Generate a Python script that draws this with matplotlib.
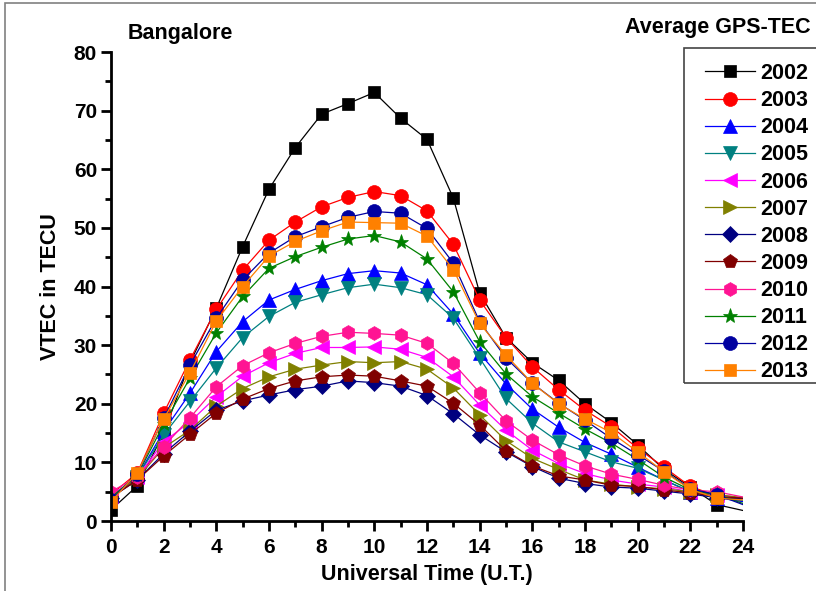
import matplotlib
matplotlib.use("Agg")
import matplotlib.pyplot as plt
from matplotlib.patches import Rectangle
from matplotlib.ticker import MultipleLocator

plt.rcParams['font.family'] = ['Liberation Sans', 'DejaVu Sans']
plt.rcParams['font.weight'] = 'bold'

hours = list(range(25))
years = ['2002', '2003', '2004', '2005', '2006', '2007', '2008', '2009', '2010', '2011', '2012', '2013']

v2002 = [1.9, 6.0, 15.0, 27.0, 36.3, 46.8, 56.6, 63.7, 69.4, 71.2, 73.1, 68.7, 65.1, 55.1, 38.9, 31.3, 27.0, 24.0, 20.0, 16.8, 13.0, 8.8, 5.8, 2.8, 1.8]
v2003 = [4.5, 8.2, 18.4, 27.5, 36.1, 42.8, 47.9, 51.0, 53.6, 55.2, 56.2, 55.5, 52.9, 47.2, 37.7, 31.3, 26.3, 22.4, 18.9, 16.1, 12.4, 9.2, 5.9, 4.3, 3.4]
v2004 = [4.2, 7.6, 15.3, 21.8, 28.9, 34.0, 37.7, 39.5, 41.0, 42.2, 42.7, 42.3, 40.3, 35.3, 28.6, 23.4, 19.1, 16.0, 13.4, 11.4, 9.2, 7.0, 5.0, 4.0, 3.3]
v2005 = [4.0, 7.5, 14.7, 20.4, 26.1, 31.3, 34.9, 37.3, 38.6, 39.8, 40.4, 39.8, 38.6, 34.6, 27.8, 20.9, 16.7, 13.5, 11.8, 10.1, 9.0, 7.0, 5.0, 4.2, 3.5]
v2006 = [4.3, 7.5, 13.5, 16.9, 21.2, 24.7, 27.0, 28.6, 29.6, 29.6, 29.7, 29.3, 27.9, 24.6, 19.8, 15.5, 12.1, 9.8, 8.1, 7.0, 6.3, 5.8, 5.0, 4.5, 3.9]
v2007 = [4.0, 7.3, 12.5, 15.5, 19.6, 22.6, 24.6, 25.9, 26.6, 27.2, 27.0, 27.2, 25.9, 22.7, 18.1, 13.7, 10.7, 8.8, 7.0, 6.3, 5.8, 5.5, 5.0, 4.5, 4.0]
v2008 = [4.0, 7.0, 11.5, 15.3, 18.9, 20.5, 21.5, 22.4, 23.0, 23.9, 23.6, 23.0, 21.4, 18.3, 14.7, 11.8, 9.3, 7.3, 6.4, 5.8, 5.6, 5.1, 4.6, 4.0, 3.8]
v2009 = [4.0, 7.0, 11.1, 14.8, 18.4, 20.8, 22.6, 23.9, 24.6, 24.9, 24.7, 23.9, 23.0, 20.1, 16.4, 12.0, 9.4, 7.7, 7.0, 6.1, 5.9, 5.3, 4.8, 4.2, 3.9]
v2010 = [5.0, 7.5, 12.7, 17.6, 22.9, 26.5, 28.7, 30.3, 31.5, 32.2, 32.0, 31.7, 30.3, 26.9, 21.9, 17.1, 13.8, 11.3, 9.4, 8.0, 7.1, 6.1, 5.3, 5.0, 4.1]
v2011 = [4.0, 7.8, 16.5, 24.4, 32.1, 38.3, 43.1, 45.1, 46.7, 48.1, 48.7, 47.6, 44.7, 39.1, 30.6, 25.1, 21.2, 18.4, 15.7, 13.3, 10.5, 7.5, 5.3, 4.5, 3.0]
v2012 = [3.6, 8.0, 17.5, 26.6, 34.6, 41.1, 45.7, 48.5, 50.2, 51.8, 52.8, 52.5, 49.9, 44.0, 34.0, 27.8, 23.5, 20.1, 17.2, 14.1, 11.3, 8.5, 5.5, 4.5, 2.8]
v2013 = [3.3, 8.2, 17.4, 25.3, 34.1, 40.0, 45.2, 47.7, 49.5, 51.0, 50.9, 50.8, 48.6, 42.9, 33.7, 28.3, 23.5, 20.0, 17.4, 15.1, 11.8, 8.4, 5.4, 3.9, 3.6]

series = [v2002, v2003, v2004, v2005, v2006, v2007, v2008, v2009, v2010, v2011, v2012, v2013]
colors = ['#000000', '#FF0000', '#0000FF', '#008080', '#FF00FF', '#808000',
          '#000080', '#800000', '#FF1493', '#008000', '#0000A0', '#FF8000']
markers = ['s', 'o', '^', 'v', '<', '>', 'D', 'p', 'h', '*', 'o', 's']
msizes = [9, 10, 10, 10, 10, 10, 8, 10, 10, 11, 10, 9]

fig = plt.figure(figsize=(8.16, 5.91), dpi=100)
# outer page frame (top and left visible)
fig.patches.append(Rectangle((5 / 816, -0.1), 1.1, 1.1 - 3 / 591, transform=fig.transFigure,
                             fill=False, edgecolor='#808080', linewidth=1.2))
ax = fig.add_axes([0.136, 0.1184, 0.7745, 0.7936])

for y, vals, c, m, ms in zip(years, series, colors, markers, msizes):
    ax.plot(hours, vals, color=c, linewidth=0.9, marker=m, markersize=ms,
            markerfacecolor=c, markeredgecolor=c, markeredgewidth=0.5,
            markevery=list(range(24)), label=y)

ax.set_xlim(0, 24)
ax.set_ylim(0, 80)
ax.xaxis.set_major_locator(MultipleLocator(2))
ax.xaxis.set_minor_locator(MultipleLocator(1))
ax.yaxis.set_major_locator(MultipleLocator(10))
ax.yaxis.set_minor_locator(MultipleLocator(5))
ax.spines['top'].set_visible(False)
ax.spines['right'].set_visible(False)
for s in ('left', 'bottom'):
    ax.spines[s].set_linewidth(2)
ax.tick_params(which='major', direction='out', length=7, width=2, labelsize=15)
ax.tick_params(axis='x', which='major', pad=5.5)
ax.tick_params(axis='y', which='major', pad=3)
ax.tick_params(which='minor', direction='out', length=4, width=2)
for lab in ax.get_xticklabels() + ax.get_yticklabels():
    lab.set_fontweight('bold')

ax.set_xlabel('Universal Time (U.T.)', fontsize=15.5, fontweight='bold', labelpad=5)
ax.set_ylabel('VTEC in TECU', fontsize=15.5, fontweight='bold', labelpad=9)

ax.text(0.027, 1.04, 'Bangalore', transform=ax.transAxes, fontsize=15.5,
        fontweight='bold', ha='left', va='center')
fig.text(0.993, 0.954, 'Average GPS-TEC', fontsize=15.5, fontweight='bold',
         ha='right', va='center')

# legend frame (extends past the right edge like the reference)
fig.patches.append(Rectangle((684 / 816, 1 - 383 / 591), 0.3, (383 - 48) / 591,
                             transform=fig.transFigure, fill=False,
                             edgecolor='#444444', linewidth=1.2, zorder=5))
leg = ax.legend(loc='upper left', bbox_to_anchor=(705 / 816, 1 - 63 / 591),
                bbox_transform=fig.transFigure, frameon=False, fontsize=15.5,
                handlelength=2.3, labelspacing=0.285, borderpad=0,
                handletextpad=0.25, borderaxespad=0)
for t in leg.get_texts():
    t.set_fontweight('bold')

fig.savefig('out.png', dpi=100)
